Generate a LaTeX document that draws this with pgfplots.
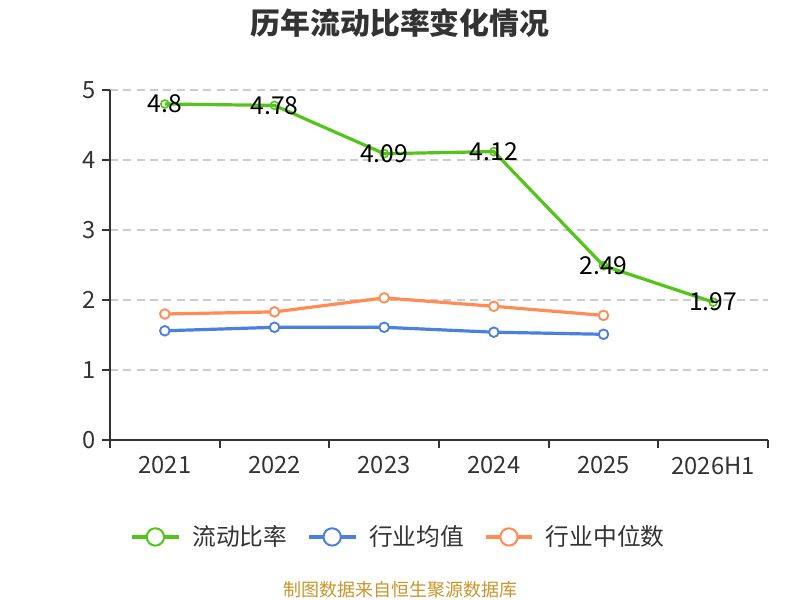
\documentclass[border=0pt]{standalone}
\usepackage{pgfplots}
\pgfplotsset{compat=1.18}
\usepackage{fontspec}
\setmainfont{Noto Sans CJK SC}
\definecolor{cgreen}{HTML}{52C41A}
\definecolor{cblue}{HTML}{4A80E2}
\definecolor{corange}{HTML}{FF8C55}
\definecolor{ctext}{HTML}{333333}
\definecolor{cgrid}{HTML}{CCCCCC}
\definecolor{csrc}{HTML}{C8962B}
\begin{document}
\begin{tikzpicture}
\path[use as bounding box] (0pt,0pt) rectangle (600pt,450pt);
\begin{axis}[
  at={(82.5pt,120pt)}, anchor=south west,
  scale only axis, width=493.5pt, height=262.5pt,
  xmin=-0.5, xmax=5.5, ymin=0, ymax=5,
  axis x line*=bottom, axis y line*=left,
  axis line style={-, draw=ctext, line width=1.3pt},
  xtick={0,1,2,3,4,5},
  xticklabels={2021,2022,2023,2024,2025,2026H1},
  minor xtick={-0.5,0.5,1.5,2.5,3.5,4.5,5.5},
  ytick={0,1,2,3,4,5},
  tick align=outside,
  major tick length=6pt,
  minor tick length=6pt,
  x tick style={draw=none},
  minor x tick style={draw=ctext, line width=1.3pt},
  y tick style={draw=ctext, line width=1.3pt},
  ymajorgrids,
  grid style={draw=cgrid, line width=1pt, dash pattern=on 6pt off 4pt},
  tick label style={font=\fontsize{17.8pt}{20pt}\selectfont, text=ctext},
  /pgf/number format/assume math mode=true,
  xticklabel style={yshift=-3pt},
  yticklabel style={xshift=-1pt},
  clip=false,
  legend columns=3,
  legend style={at={(0.439,-0.277)}, anchor=center, draw=none, fill=none,
    font=\fontsize{17.8pt}{20pt}\selectfont, text=ctext,
    /tikz/every even column/.append style={column sep=13pt},
    /tikz/every odd column/.append style={column sep=7pt}},
  legend image code/.code={
    \draw[#1, mark=none] (0pt,0pt) -- (35pt,0pt);
    \draw[#1, mark=none, fill=white, line width=1.5pt] (17.5pt,0pt) circle (6.5pt);
  },
]
\addplot[cgreen, line width=2.4pt, mark=o, mark size=3pt,
  mark options={fill=white, line width=1.2pt},
  nodes near coords, point meta=explicit symbolic,
  every node near coord/.append style={anchor=center, text=black,
    font=\fontsize{18.5pt}{20pt}\selectfont}]
  table[meta=lab] {
  x y lab
  0 4.80 4.8
  1 4.78 4.78
  2 4.09 4.09
  3 4.12 4.12
  4 2.49 2.49
  5 1.97 1.97
  };
\addlegendentry{流动比率}
\addplot[cblue, line width=2.4pt, mark=*, mark size=3.6pt,
  mark options={fill=white, line width=1.4pt}]
  coordinates {(0,1.56) (1,1.61) (2,1.61) (3,1.54) (4,1.51)};
\addlegendentry{行业均值}
\addplot[corange, line width=2.4pt, mark=*, mark size=3.6pt,
  mark options={fill=white, line width=1.4pt}]
  coordinates {(0,1.80) (1,1.83) (2,2.03) (3,1.91) (4,1.78)};
\addlegendentry{行业中位数}
\end{axis}
\node[font=\fontsize{22.4pt}{25pt}\selectfont\bfseries, text=ctext] at (300pt,433pt) {历年流动比率变化情况};
\node[font=\fontsize{13.5pt}{15pt}\selectfont, text=csrc] at (300pt,7.5pt) {制图数据来自恒生聚源数据库};
\end{tikzpicture}
\end{document}
